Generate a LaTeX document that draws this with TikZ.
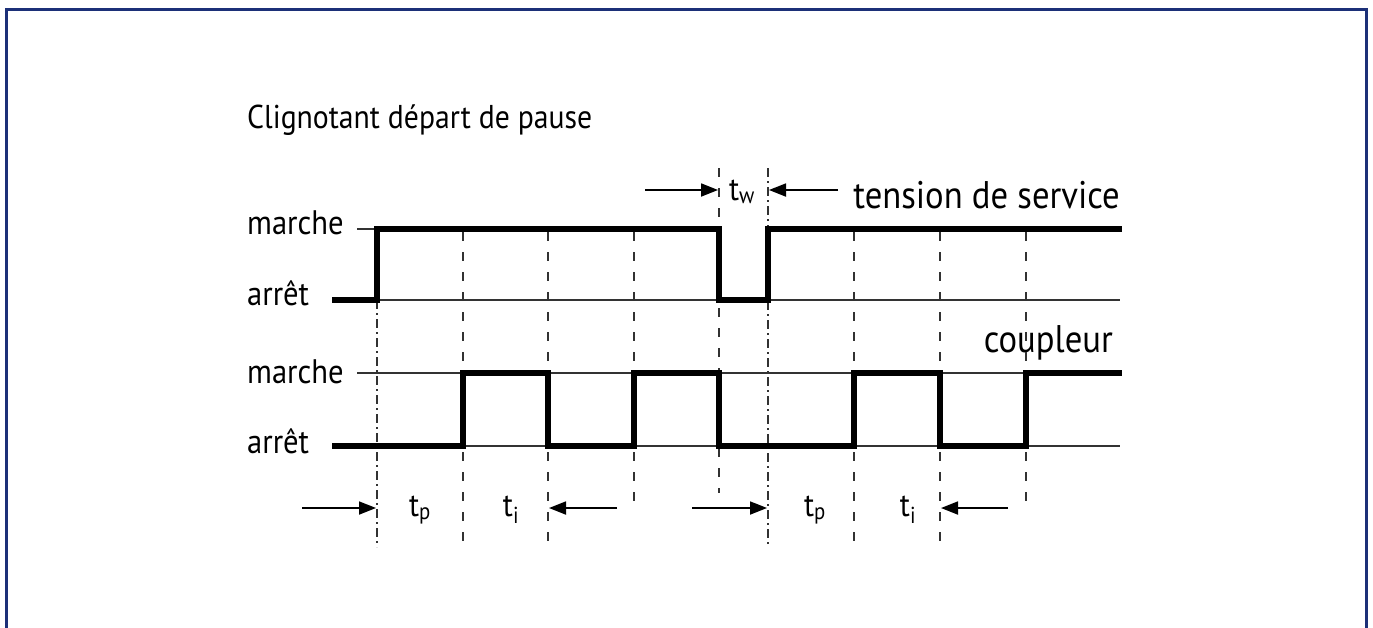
\documentclass[tikz,border=0pt]{standalone}
\usepackage{fontspec}
\setmainfont{PT Sans}[FakeStretch=0.9]
\usetikzlibrary{positioning, arrows.meta}
\definecolor{framecol}{RGB}{28,48,120}
\definecolor{dashcol}{RGB}{50,50,50}
\tikzstyle{stylelabel} = [inner sep=0pt, anchor=base west, font=\fontsize{34}{40}\selectfont]
\tikzstyle{stylename} = [inner sep=0pt, anchor=base east, font=\fontsize{38.5}{44}\selectfont]
\tikzstyle{styletime} = [inner sep=0pt, anchor=base, font=\fontsize{33}{40}\selectfont]
\tikzstyle{stylelevel} = [line width=1.4pt, black!80]
\tikzstyle{stylesignal} = [line width=5.5pt, line join=miter, black]
\tikzstyle{stylemark} = [line width=1.8pt, dashcol, dash pattern=on 9pt off 11pt]
\tikzstyle{stylestart} = [line width=1.8pt, dashcol, dash pattern=on 9pt off 4pt on 2pt off 4pt]
\tikzstyle{stylearrow} = [line width=1.8pt, -{Triangle[length=17pt, width=13pt]}]

\begin{document}
\begin{tikzpicture}[x=1pt, y=-1pt]
\useasboundingbox (0,0) rectangle (1373,627);
% cadre
\draw[framecol, line width=3pt] (6.5,660) -- (6.5,9.5) -- (1366.5,9.5) -- (1366.5,660);

\node (titre) [stylelabel, font=\fontsize{33}{40}\selectfont] at (247,128) {Clignotant départ de pause};

% niveaux
\node (m1) [stylelabel] at (247,234) {marche};
\node (a1) [stylelabel] at (247,305) {arrêt};
\node (m2) [stylelabel] at (247,383) {marche};
\node (a2) [stylelabel] at (247,453) {arrêt};
\node (ts) [stylename] at (1120,208) {tension de service};
\node (cp) [stylename] at (1113,352) {coupleur};

\draw[stylelevel] (357,229) -- (377,229);
\draw[stylelevel] (377,300) -- (1120,300);
\draw[stylelevel] (357,373) -- (1120,373);
\draw[stylelevel] (332,446) -- (1120,446);

% repères de temps
\draw[stylestart] (377,300) -- (377,547);
\draw[stylemark] (463,232) -- (463,547);
\draw[stylemark] (548,232) -- (548,547);
\draw[stylemark] (634,232) -- (634,508);
\draw[stylemark] (719,168) -- (719,493);
\draw[stylestart] (768,168) -- (768,547);
\draw[stylemark] (854,232) -- (854,547);
\draw[stylemark] (940,232) -- (940,547);
\draw[stylemark] (1026,232) -- (1026,508);

% tension de service
\draw[stylesignal] (332,300) -- (377,300) -- (377,229) -- (719,229) -- (719,300)
  -- (768,300) -- (768,229) -- (1122,229);
% coupleur
\draw[stylesignal] (332,446) -- (463,446) -- (463,373) -- (548,373) -- (548,446)
  -- (634,446) -- (634,373) -- (719,373) -- (719,446) -- (854,446) -- (854,373)
  -- (940,373) -- (940,446) -- (1026,446) -- (1026,373) -- (1122,373);

% durees
\coordinate (w1) at (645,190);
\coordinate (w2) at (718,190);
\coordinate (w3) at (838,190);
\coordinate (w4) at (769,190);
\draw[stylearrow] (w1) -- (w2);
\draw[stylearrow] (w3) -- (w4);
\node (tw) [styletime] at (742,200) {t\textsubscript{w}};

\coordinate (p1) at (302,508);
\coordinate (p2) at (376,508);
\coordinate (i1) at (617,508);
\coordinate (i2) at (549,508);
\coordinate (p3) at (692,508);
\coordinate (p4) at (767,508);
\coordinate (i3) at (1008,508);
\coordinate (i4) at (941,508);
\draw[stylearrow] (p1) -- (p2);
\draw[stylearrow] (i1) -- (i2);
\draw[stylearrow] (p3) -- (p4);
\draw[stylearrow] (i3) -- (i4);
\node (tp1) [styletime] at (420,516) {t\textsubscript{p}};
\node (ti1) [styletime] at (511,516) {t\textsubscript{i}};
\node (tp2) [styletime] at (815,516) {t\textsubscript{p}};
\node (ti2) [styletime] at (908,516) {t\textsubscript{i}};

\end{tikzpicture}
\end{document}
